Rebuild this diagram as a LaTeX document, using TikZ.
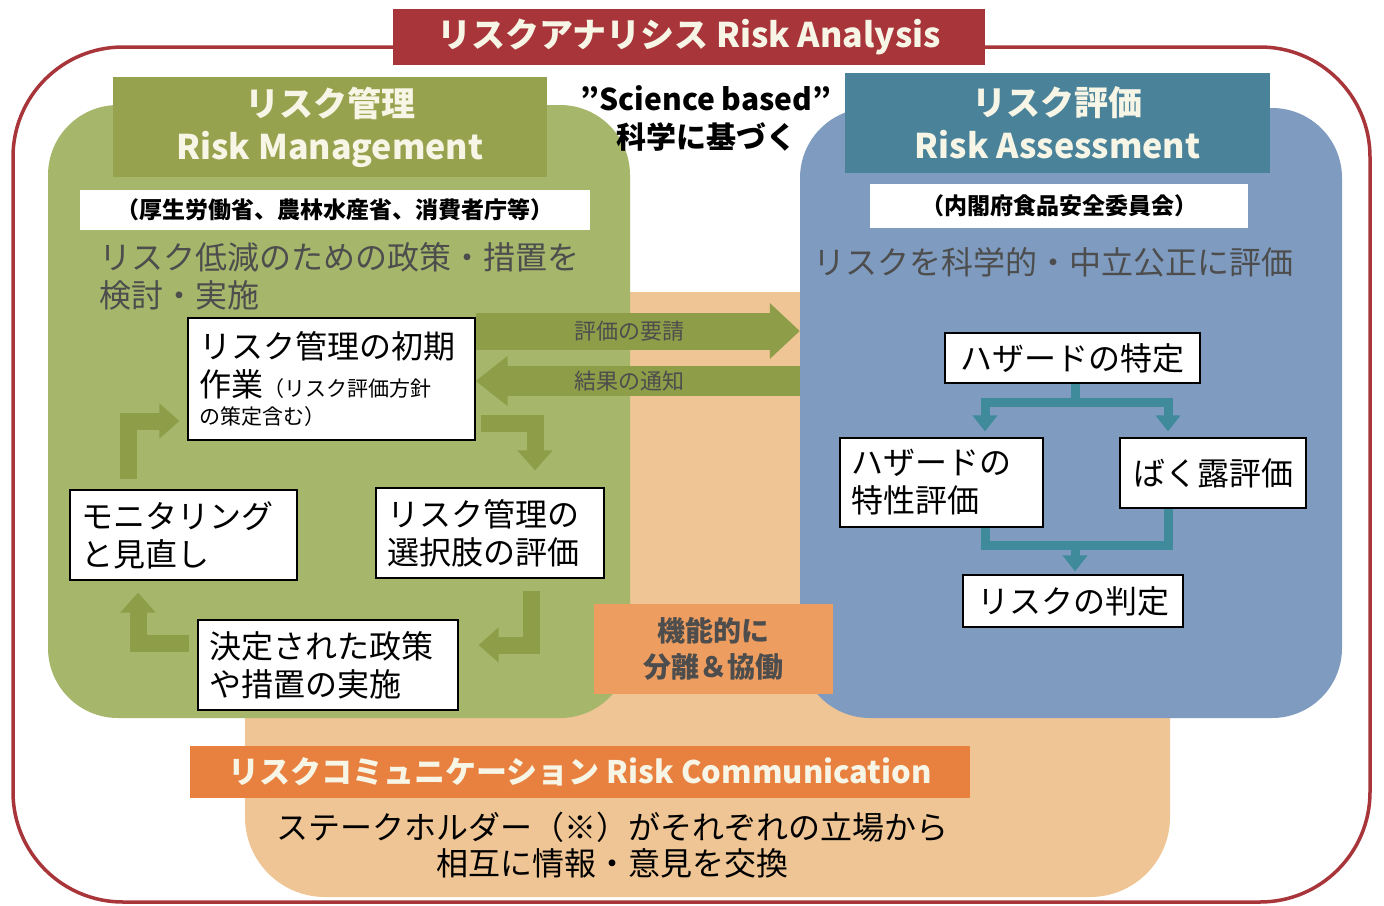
\documentclass[tikz,border=0pt]{standalone}
\usepackage{fontspec}
\setmainfont{Noto Sans CJK JP}
\usepackage{tikz}
\usetikzlibrary{arrows.meta,positioning}
\definecolor{frred}{HTML}{A8353A}
\definecolor{rmgreen}{HTML}{A6B76C}
\definecolor{rmhead}{HTML}{97A24E}
\definecolor{raback}{HTML}{7F9CC0}
\definecolor{rahead}{HTML}{4A8399}
\definecolor{rctan}{HTML}{EFC595}
\definecolor{rcbar}{HTML}{E8803F}
\definecolor{sepbox}{HTML}{EE9D60}
\definecolor{flowgreen}{HTML}{8E9D48}
\definecolor{flowteal}{HTML}{3F8A9B}
\definecolor{txtgray}{HTML}{4D4D4D}
\definecolor{hdtext}{HTML}{F7F5E6}
\newcommand\fsz[2]{\fontsize{#1}{#2}\selectfont}

\begin{document}
\begin{tikzpicture}[x=1pt,y=-1pt]%
        \useasboundingbox (0,0) rectangle (1384,905); %%
        \fill[white] (0,0) rectangle (1384,905); %%
        \draw[frred,line width=3.5pt,rounded corners=110pt] (13,47) rectangle (1370,902); %%
        \fill[rctan,rounded corners=80pt] (245,292) rectangle (1170,897); %%
        \begin{scope}
        \tikzstyle{every node}=[inner sep=0pt,rounded corners=70pt] %%
        \node[fill=rmgreen,minimum width=582,minimum height=613] (rmpanel) at (339,411.5) {}; %%
        \node[fill=raback,minimum width=542,minimum height=610] (rapanel) at (1071,413) {}; %%
        \end{scope}
        \begin{scope}[text=hdtext]
        \tikzstyle{every node}=[inner sep=0pt,align=center,font=\bfseries\fsz{34}{43}] %%
        \node[fill=rmhead,minimum width=434,minimum height=100] (rmhd) at (330,127) {リスク管理\\Risk Management}; %%
        \node[fill=rahead,minimum width=425,minimum height=100] (rahd) at (1057.5,123) {リスク評価\\Risk Assessment}; %%
        \node[fill=frred,minimum width=592,minimum height=56,font=\bfseries\fsz{34}{40}] (ttl) at (689,37) {リスクアナリシス Risk Analysis}; %%
        \node[fill=rcbar,minimum width=780,minimum height=52,font=\bfseries\fsz{31}{36}] (rcbar) at (580,772) {リスクコミュニケーション Risk Communication}; %%
        \end{scope}
        \node[align=center,font=\bfseries\fsz{30}{38}] (sci) at (706,118) {"Science based"\\科学に基づく}; %%
        \begin{scope}
        \tikzstyle{every node}=[fill=white,inner sep=0pt,font=\bfseries\fsz{23}{26}] %%
        \node[minimum width=510,minimum height=40] (rmorg) at (335,210) {（厚生労働省、農林水産省、消費者庁等）}; %%
        \node[minimum width=378,minimum height=44] (raorg) at (1059,206) {（内閣府食品安全委員会）}; %%
        \end{scope}
        \node[anchor=west,align=left,text=txtgray,font=\fsz{32}{38}] (rmdesc) at (96,276) {リスク低減のための政策・措置を\\検討・実施}; %%
        \node[anchor=west,text=txtgray,font=\fsz{32}{38}] (radesc) at (810,262) {リスクを科学的・中立公正に評価}; %%
        \begin{scope}
        \tikzstyle{every node}=[draw,fill=white,line width=1.2pt,inner xsep=11pt,inner ysep=0pt,align=left,font=\fsz{32}{38}] %%
        \node[text width=265,minimum height=122] (init) at (331.5,379) {リスク管理の初期\\作業{\fsz{21}{21}（リスク評価方針}\\[-10pt]{\fsz{21}{21}の策定含む）}}; %%
        \node[text width=205,minimum height=90] (mon) at (183.5,535) {モニタリング\\と見直し}; %%
        \node[text width=206,minimum height=90] (opt) at (490,533) {リスク管理の\\選択肢の評価}; %%
        \node[text width=238,minimum height=90] (impl) at (328,665) {決定された政策\\や措置の実施}; %%
        \node[text width=233,minimum height=50,align=center] (hid) at (1072.5,358) {ハザードの特定}; %%
        \node[text width=181,minimum height=89] (hchar) at (941.5,482.5) {ハザードの\\特性評価}; %%
        \node[text width=164,minimum height=70,align=center] (expo) at (1213,473) {ばく露評価}; %%
        \node[text width=198,minimum height=52,align=center] (judge) at (1073,601) {リスクの判定}; %%
        \end{scope}
        \tikzset{bigarrow/.style={flowgreen}, %%
                 arrtext/.style={text=txtgray,font=\fsz{22}{24}}, %%
                 flowarrow/.style={flowgreen,line width=17pt,-{Triangle[width=34pt,length=20pt]}}, %%
                 tealline/.style={flowteal,line width=9pt}, %%
                 tealarrow/.style={tealline,-{Triangle[width=24pt,length=16pt]}}} %%
        \draw[bigarrow,line width=37pt,-{Triangle[width=54pt,length=30pt]}] (init.east |- 0,331) -- (rapanel.west |- 0,331) node[midway,arrtext,xshift=-8pt] {評価の要請}; %%
        \draw[bigarrow,line width=30pt,-{Triangle[width=48pt,length=32pt]}] (rapanel.west |- 0,381) -- (init.east |- 0,381) node[midway,arrtext,xshift=-8pt] {結果の通知}; %%
        \draw[flowarrow,shorten <=5pt,shorten >=17pt] (init.east |- 0,423) -| (opt.north -| 535,0); %%
        \draw[flowarrow,shorten <=12pt,shorten >=20pt] (opt.south -| 531,0) |- (impl.east |- 0,645); %%
        \draw[flowarrow,shorten <=8pt,shorten >=12pt] (impl.west |- 0,643) -| (mon.south -| 138,0); %%
        \draw[flowarrow,shorten <=10pt,shorten >=8pt] (mon.north -| 128,0) |- (init.west |- 0,421); %%
        \coordinate (fork) at (1075,402); %%
        \coordinate (join) at (1075,545); %%
        \draw[tealarrow,shorten >=6pt] (hid.south -| fork) -- (fork) -| (hchar.north -| 985,0); %%
        \draw[tealarrow,shorten >=6pt] (hid.south -| fork) -- (fork) -| (expo.north -| 1168,0); %%
        \draw[tealline] (hchar.south -| 985,0) |- (join); %%
        \draw[tealline] (expo.south -| 1168,0) |- (join); %%
        \draw[tealarrow,shorten >=3pt] (join) -- (judge.north -| join); %%
        \node[fill=sepbox,minimum width=239,minimum height=90,inner sep=0pt,align=center,text=txtgray,font=\bfseries\fsz{28}{36}] (sep) at (713.5,649) {機能的に\\分離＆協働}; %%
        \node[align=center,font=\fsz{32}{36}] (rcdesc) at (612,845) {ステークホルダー（※）がそれぞれの立場から\\相互に情報・意見を交換}; %%
\end{tikzpicture}
\end{document}
